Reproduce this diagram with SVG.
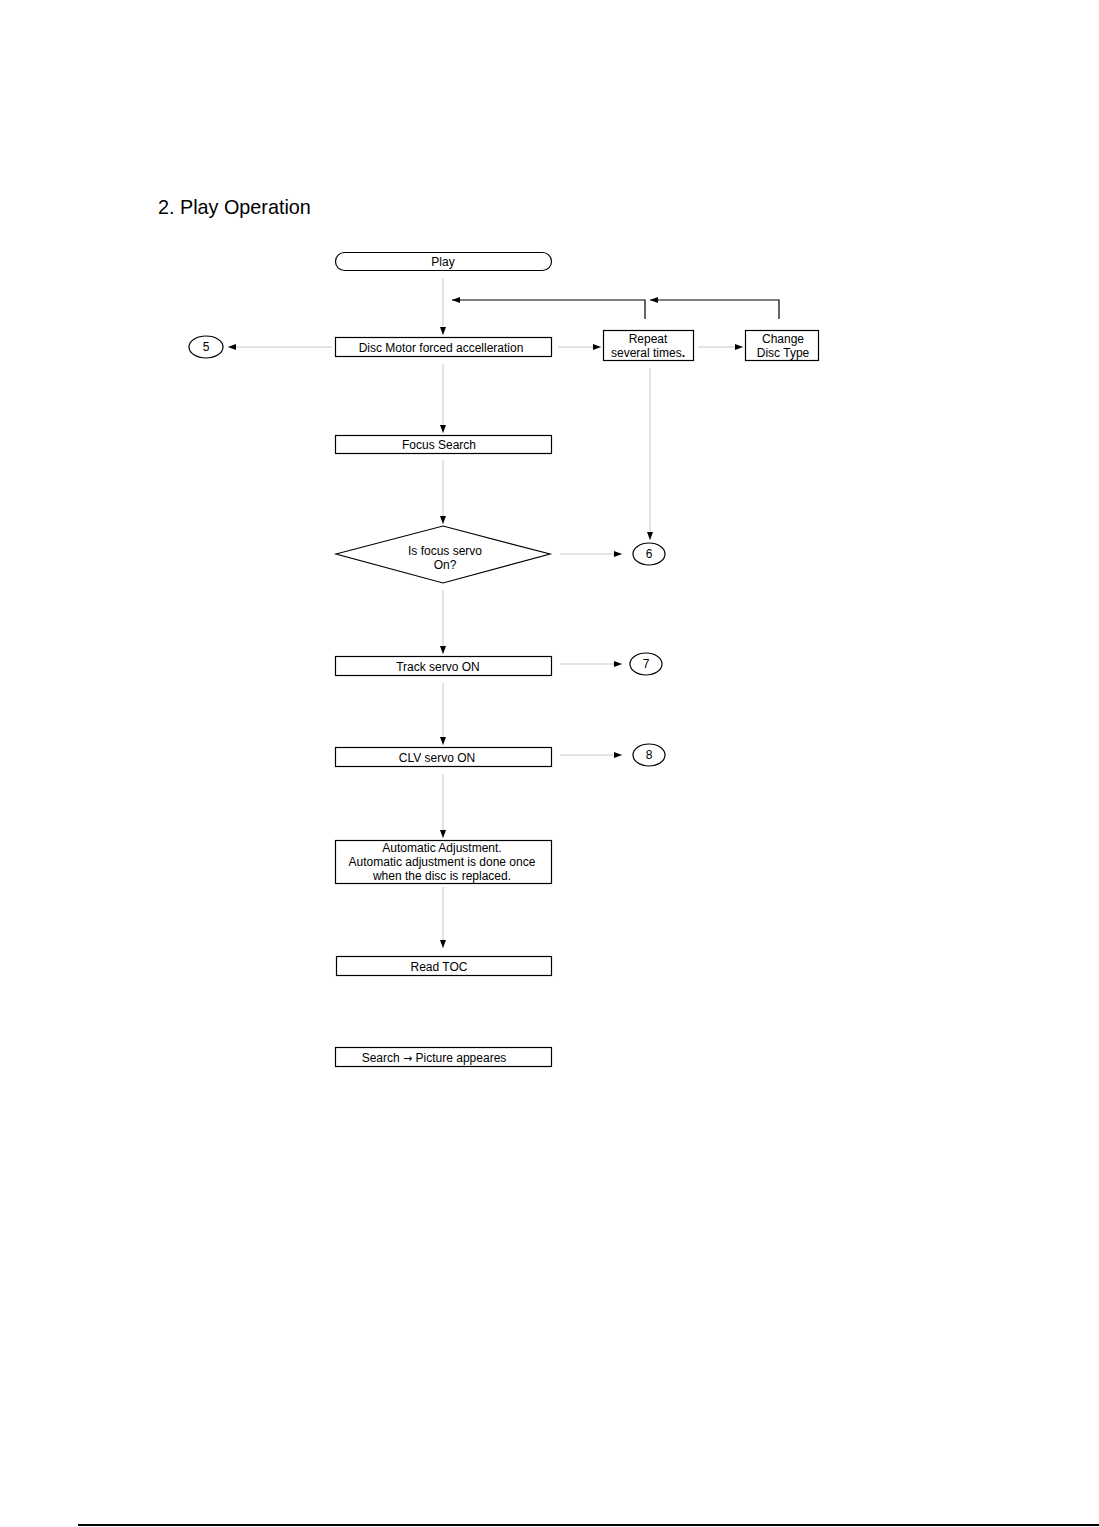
<svg xmlns="http://www.w3.org/2000/svg" width="1099" height="1527" viewBox="0 0 1099 1527">
<defs>
<marker id="ah" viewBox="0 0 8 6" refX="8" refY="3" markerWidth="8" markerHeight="6" markerUnits="userSpaceOnUse" orient="auto">
<path d="M0,0 L8,3 L0,6 Z" fill="#000"/>
</marker>
</defs>
<style>
.box{fill:#fff;stroke:#000;stroke-width:1.2}
.t{font-family:"Liberation Sans",Arial,sans-serif;font-size:12px;fill:#000;text-anchor:middle}
.c{fill:none;stroke:#c8c8c8;stroke-width:1}
.fb{fill:none;stroke:#000;stroke-width:1.2}
</style>
<rect width="1099" height="1527" fill="#fff"/>
<text x="158" y="214" font-family="'Liberation Sans',Arial,sans-serif" font-size="19.8" fill="#000">2. Play Operation</text>
<g id="connectors">
<path class="c" d="M443,278 V335" marker-end="url(#ah)"/>
<path class="fb" d="M645,319 V300 H452" marker-end="url(#ah)"/>
<path class="fb" d="M779,319 V300 H650" marker-end="url(#ah)"/>
<path class="c" d="M332,347 H228" marker-end="url(#ah)"/>
<path class="c" d="M558,347 H601" marker-end="url(#ah)"/>
<path class="c" d="M698,347 H743" marker-end="url(#ah)"/>
<path class="c" d="M650,368 V540" marker-end="url(#ah)"/>
<path class="c" d="M443,364 V433" marker-end="url(#ah)"/>
<path class="c" d="M443,460 V524" marker-end="url(#ah)"/>
<path class="c" d="M560,554 H622" marker-end="url(#ah)"/>
<path class="c" d="M443,590 V654" marker-end="url(#ah)"/>
<path class="c" d="M560,664 H622" marker-end="url(#ah)"/>
<path class="c" d="M443,683 V745" marker-end="url(#ah)"/>
<path class="c" d="M560,755 H622" marker-end="url(#ah)"/>
<path class="c" d="M443,774 V838" marker-end="url(#ah)"/>
<path class="c" d="M443,887 V948" marker-end="url(#ah)"/>
</g>
<g id="play"><rect class="box" x="335.5" y="252.5" width="216" height="18" rx="9"/><text class="t" x="443" y="265.5">Play</text></g>
<g id="discmotor"><rect class="box" x="335.5" y="337.5" width="216" height="19"/><text class="t" x="441" y="351.5">Disc Motor forced accelleration</text></g>
<g id="c5"><ellipse class="box" cx="206" cy="347" rx="17" ry="11"/><text class="t" x="206" y="351">5</text></g>
<g id="repeat"><rect class="box" x="603.5" y="330.5" width="90" height="30"/><text class="t" x="648" y="342.5">Repeat</text><text class="t" x="648" y="356.5">several times<tspan font-weight="bold">.</tspan></text></g>
<g id="change"><rect class="box" x="745.5" y="330.5" width="73" height="30"/><text class="t" x="783" y="342.5">Change</text><text class="t" x="783" y="356.5">Disc Type</text></g>
<g id="focus"><rect class="box" x="335.5" y="435.5" width="216" height="18"/><text class="t" x="439" y="448.5">Focus Search</text></g>
<g id="decision"><path class="box" d="M336,554 L443,526 L550,554 L443,583 Z"/><text class="t" x="445" y="554.5">Is focus servo</text><text class="t" x="445" y="568.5">On?</text></g>
<g id="c6"><ellipse class="box" cx="649" cy="554" rx="16" ry="11"/><text class="t" x="649" y="558">6</text></g>
<g id="track"><rect class="box" x="335.5" y="656.5" width="216" height="19"/><text class="t" x="438" y="670.5">Track servo ON</text></g>
<g id="c7"><ellipse class="box" cx="646" cy="664" rx="16" ry="11"/><text class="t" x="646" y="668">7</text></g>
<g id="clv"><rect class="box" x="335.5" y="747.5" width="216" height="19"/><text class="t" x="437" y="761.5">CLV servo ON</text></g>
<g id="c8"><ellipse class="box" cx="649" cy="755" rx="16" ry="11"/><text class="t" x="649" y="759">8</text></g>
<g id="auto"><rect class="box" x="335.5" y="840.5" width="216" height="43"/><text class="t" x="442" y="851.5">Automatic Adjustment.</text><text class="t" x="442" y="865.5">Automatic adjustment is done once</text><text class="t" x="442" y="879.5">when the disc is replaced.</text></g>
<g id="readtoc"><rect class="box" x="336.5" y="956.5" width="215" height="19"/><text class="t" x="439" y="970.5">Read TOC</text></g>
<g id="search"><rect class="box" x="335.5" y="1047.5" width="216" height="19"/><text class="t" x="434" y="1061.5">Search <tspan font-family="'DejaVu Sans',sans-serif" font-size="11">→</tspan> Picture appeares</text></g>
<line x1="78" y1="1525" x2="1099" y2="1525" stroke="#000" stroke-width="2"/>
</svg>
